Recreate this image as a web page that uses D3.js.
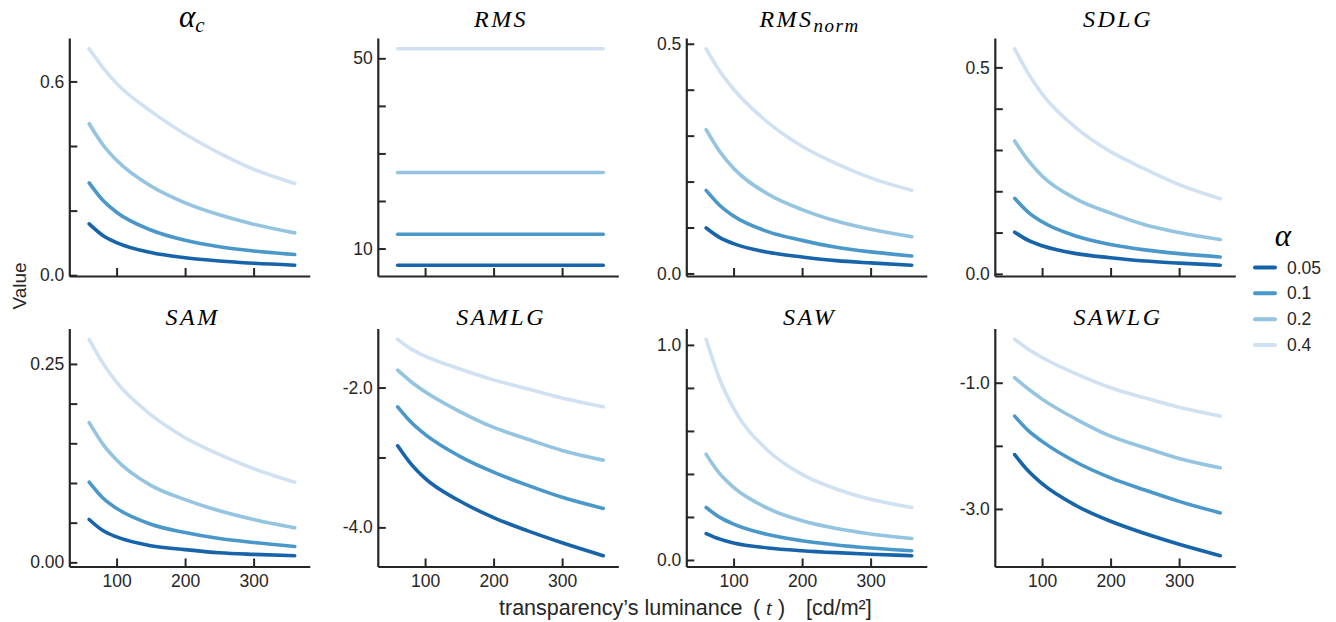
<!DOCTYPE html>
<html>
<head>
<meta charset="utf-8">
<script src="https://cdn.jsdelivr.net/npm/d3@7"></script>
<style>
  body { margin: 0; background: #fff; }
  svg { display: block; }
</style>
</head>
<body>
<div id="chart"></div>
<script>
const W = 1336
const H = 622

// luminance samples (cd/m²)
const tValues = [60, 80, 100, 150, 200, 250, 300, 360]
const alphas = ["0.05", "0.1", "0.2", "0.4"]
const palette = ["#1764ab", "#4a98c9", "#94c4df", "#d0e1f2"]

// one row per alpha (0.05, 0.1, 0.2, 0.4)
const alphaC = [
  [0.159, 0.123, 0.101, 0.070, 0.054, 0.044, 0.037, 0.031],
  [0.286, 0.232, 0.195, 0.140, 0.108, 0.088, 0.075, 0.064],
  [0.469, 0.404, 0.356, 0.276, 0.224, 0.187, 0.158, 0.131],
  [0.701, 0.643, 0.594, 0.508, 0.437, 0.378, 0.328, 0.284]
]
const rms = [
  [6.5, 6.5, 6.5, 6.5, 6.5, 6.5, 6.5, 6.5],
  [13, 13, 13, 13, 13, 13, 13, 13],
  [26, 26, 26, 26, 26, 26, 26, 26],
  [52, 52, 52, 52, 52, 52, 52, 52]
]
const rmsNorm = [
  [0.099, 0.078, 0.065, 0.046, 0.036, 0.028, 0.023, 0.018],
  [0.181, 0.148, 0.125, 0.091, 0.072, 0.057, 0.047, 0.038],
  [0.313, 0.265, 0.229, 0.173, 0.139, 0.114, 0.096, 0.080],
  [0.489, 0.440, 0.401, 0.329, 0.277, 0.239, 0.208, 0.181]
]
const sdlg = [
  [0.101, 0.081, 0.068, 0.049, 0.039, 0.031, 0.026, 0.021],
  [0.183, 0.149, 0.126, 0.091, 0.071, 0.058, 0.049, 0.041],
  [0.322, 0.274, 0.237, 0.181, 0.147, 0.119, 0.100, 0.083],
  [0.545, 0.485, 0.436, 0.353, 0.296, 0.254, 0.216, 0.182]
]
const sam = [
  [0.054, 0.040, 0.032, 0.021, 0.016, 0.012, 0.010, 0.0084],
  [0.101, 0.081, 0.068, 0.048, 0.0376, 0.030, 0.025, 0.020],
  [0.176, 0.149, 0.129, 0.097, 0.079, 0.065, 0.054, 0.0435],
  [0.281, 0.251, 0.227, 0.186, 0.157, 0.136, 0.118, 0.101]
]
const samlg = [
  [-2.833, -3.10, -3.30, -3.62, -3.86, -4.05, -4.22, -4.405],
  [-2.276, -2.50, -2.67, -2.98, -3.21, -3.40, -3.57, -3.729],
  [-1.752, -1.92, -2.06, -2.34, -2.57, -2.74, -2.90, -3.038],
  [-1.31, -1.45, -1.55, -1.73, -1.89, -2.02, -2.15, -2.276]
]
const saw = [
  [0.123, 0.097, 0.079, 0.056, 0.043, 0.034, 0.027, 0.020],
  [0.244, 0.198, 0.167, 0.118, 0.0895, 0.070, 0.056, 0.043],
  [0.491, 0.400, 0.338, 0.240, 0.182, 0.146, 0.121, 0.100],
  [1.026, 0.838, 0.705, 0.509, 0.398, 0.330, 0.282, 0.244]
]
const sawlg = [
  [-2.138, -2.40, -2.60, -2.95, -3.196, -3.39, -3.56, -3.741],
  [-1.529, -1.76, -1.93, -2.26, -2.508, -2.70, -2.88, -3.063],
  [-0.921, -1.10, -1.26, -1.58, -1.847, -2.03, -2.20, -2.349],
  [-0.312, -0.47, -0.60, -0.86, -1.079, -1.24, -1.39, -1.529]
]

const xTicks = [100, 200, 300]

const panels = [
  { title: ["α", "c"], data: alphaC, ticks: [0, 0.2, 0.4, 0.6], digits: 1 },
  { title: ["RMS"], data: rms, ticks: [10, 20, 30, 40, 50], digits: 0 },
  { title: ["RMS", "norm"], data: rmsNorm, ticks: [0, 0.1, 0.2, 0.3, 0.4, 0.5], digits: 1 },
  { title: ["SDLG"], data: sdlg, ticks: [0, 0.1, 0.2, 0.3, 0.4, 0.5], digits: 1 },
  { title: ["SAM"], data: sam, ticks: [0, 0.05, 0.1, 0.15, 0.2, 0.25], digits: 2 },
  { title: ["SAMLG"], data: samlg, ticks: [-4, -3, -2], digits: 1 },
  { title: ["SAW"], data: saw, ticks: [0, 0.2, 0.4, 0.6, 0.8, 1.0], digits: 1 },
  { title: ["SAWLG"], data: sawlg, ticks: [-3, -2, -1], digits: 1 }
]

const INK = "#262626"
const SANS = "'Liberation Sans', Arial, sans-serif"
const SERIF = "'Liberation Serif', 'Times New Roman', serif"

const PW = 240.5
const PH = 238
const colX = i => 69.3 + i * 308.5
const rowY = j => 38 + j * 290.5

const svg = d3.select("#chart").append("svg")
  .attr("width", W)
  .attr("height", H)

panels.forEach((p, k) => {
  const col = k % 4
  const row = Math.floor(k / 4)
  const g = svg.append("g").attr("transform", `translate(${colX(col)},${rowY(row)})`)

  const x = d3.scaleLinear().domain([31, 382]).range([0, PW])

  // matplotlib-like 5% margins on y
  const all = p.data.flat()
  const lo = d3.min(all), hi = d3.max(all)
  const pad = (hi - lo) * 0.05
  const y = d3.scaleLinear().domain([lo - pad, hi + pad]).range([PH, 0])

  // curves
  const line = d3.line()
    .x((d, i) => x(tValues[i]))
    .y(d => y(d))
    .curve(d3.curveMonotoneX)

  p.data.forEach((series, si) => {
    g.append("path")
      .attr("d", line(series))
      .attr("fill", "none")
      .attr("stroke", palette[si])
      .attr("stroke-width", 3.6)
      .attr("stroke-linecap", "round")
      .attr("stroke-linejoin", "round")
  })

  // y axis - only first & last tick labelled
  const first = p.ticks[0], last = p.ticks[p.ticks.length - 1]
  const yAxis = d3.axisLeft(y)
    .tickValues(p.ticks)
    .tickSize(-8)
    .tickSizeOuter(0)
    .tickPadding(5)
    .tickFormat(d => (d === first || d === last) ? d.toFixed(p.digits) : "")

  const xAxis = d3.axisBottom(x)
    .tickValues(xTicks)
    .tickSize(-8)
    .tickSizeOuter(0)
    .tickPadding(8)
    .tickFormat(d => row === 1 ? d : "")

  const gy = g.append("g").call(yAxis)
  const gx = g.append("g").attr("transform", `translate(0,${PH})`).call(xAxis)

  ;[gx, gy].forEach(a => {
    a.select(".domain").attr("stroke", INK).attr("stroke-width", 2.2)
    a.selectAll(".tick line").attr("stroke", INK).attr("stroke-width", 2)
    a.selectAll(".tick text")
      .attr("fill", INK)
      .style("font-family", SANS)
      .style("font-size", "17.5px")
  })

  // title (math italic)
  const isGreek = p.title[0] === "α"
  const t = g.append("text")
    .attr("x", PW / 2 + 3)
    .attr("y", row === 0 ? -11 : -4)
    .attr("text-anchor", "middle")
    .style("font-family", SERIF)
    .style("font-style", "italic")
    .style("font-size", isGreek ? "31px" : "24px")
    .style("letter-spacing", isGreek ? "0px" : "2.5px")
    .attr("fill", "#000")
  t.append("tspan").text(p.title[0])
  if (p.title[1]) {
    t.append("tspan")
      .attr("dy", 5)
      .style("font-size", isGreek ? "21px" : "19px")
      .style("letter-spacing", "1.5px")
      .text(p.title[1])
  }
})

// shared labels
svg.append("text")
  .attr("transform", "translate(26,286) rotate(-90)")
  .attr("text-anchor", "middle")
  .style("font-family", SANS)
  .style("font-size", "19px")
  .attr("fill", INK)
  .text("Value")

const xl = svg.append("text")
  .attr("x", 499)
  .attr("y", 615)
  .style("font-family", SANS)
  .style("font-size", "21.5px")
  .attr("fill", INK)
xl.append("tspan").text("transparency’s luminance")
xl.append("tspan").attr("x", 753).text("(")
xl.append("tspan").attr("x", 766)
  .style("font-family", SERIF).style("font-style", "italic").text("t")
xl.append("tspan").attr("x", 778).text(")")
xl.append("tspan").attr("x", 806).text("[cd/m²]")

// legend
const leg = svg.append("g").attr("transform", "translate(1255,0)")
leg.append("text")
  .attr("x", 28)
  .attr("y", 246)
  .attr("text-anchor", "middle")
  .style("font-family", SERIF)
  .style("font-style", "italic")
  .style("font-size", "31px")
  .attr("fill", "#000")
  .text("α")

const legY = d3.scalePoint().domain(alphas).range([267.5, 345])
alphas.forEach((a, i) => {
  leg.append("line")
    .attr("x1", 0).attr("x2", 20)
    .attr("y1", legY(a)).attr("y2", legY(a))
    .attr("stroke", palette[i])
    .attr("stroke-width", 4)
    .attr("stroke-linecap", "round")
  leg.append("text")
    .attr("x", 32)
    .attr("y", legY(a))
    .attr("dy", "0.35em")
    .style("font-family", SANS)
    .style("font-size", "17.5px")
    .attr("fill", INK)
    .text(a)
})
</script>
</body>
</html>
